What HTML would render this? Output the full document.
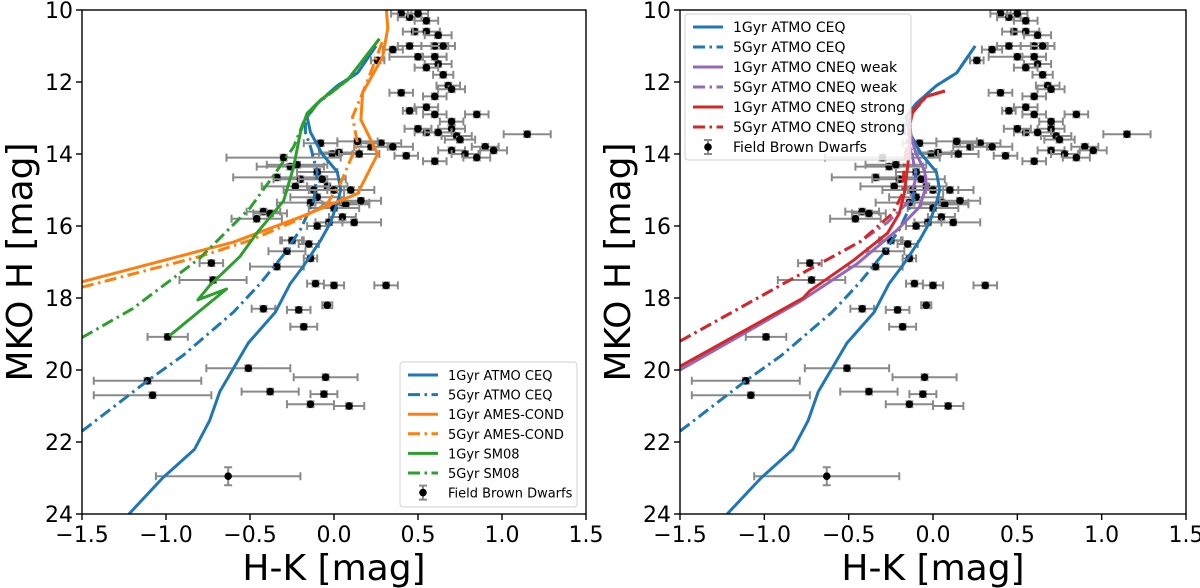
<!DOCTYPE html>
<html><head><meta charset="utf-8">
<style>
html,body{margin:0;padding:0;background:#fff;}
svg{display:block;font-family:"DejaVu Sans","Liberation Sans",sans-serif;}
</style></head>
<body>
<svg id="fig" width="1200" height="588" viewBox="0 0 1200 588" xmlns="http://www.w3.org/2000/svg"></svg>
<script>
// ---- Field brown dwarf data ----
const dwarfHK = [0.40,0.45,0.50,0.55,0.48,0.55,0.62,0.35,0.45,0.60,0.65,0.50,0.60,0.62,0.55,0.65,0.68,0.70,0.60,0.55,0.60,0.85,0.70,0.73,0.75,0.70,0.60,0.55,0.70,0.78,0.85,0.90,0.95,1.15,0.50,0.62,
 0.26,0.40,0.45,-0.08,-0.01,0.03,0.15,0.22,0.28,0.35,0.43,0.14,-0.30,-0.26,-0.22,-0.34,-0.20,-0.10,-0.07,-0.04,-0.23,-0.12,-0.10,-0.14,0.00,0.10,0.05,0.07,0.16,0.00,-0.42,-0.38,-0.46,0.05,0.12,-0.03,-0.10,-0.25,-0.15,
 -0.73,-0.34,-0.72,-0.28,-0.25,-0.14,-0.11,0.00,0.31,-0.42,-0.21,-0.04,-0.18,-0.99,-0.51,-0.05,-1.11,-1.08,-0.38,-0.06,-0.14,0.09,-0.63];
const dwarfMH = [10.1,10.2,10.1,10.3,10.6,10.6,10.7,11.1,11.0,11.0,11.0,11.3,11.3,11.5,11.6,11.8,12.1,12.2,12.4,12.7,12.9,12.9,13.3,13.5,13.6,13.9,14.2,13.4,13.1,14.0,14.1,13.8,13.9,13.45,13.3,13.4,
 11.4,12.3,12.8,13.7,14.0,13.96,14.0,13.8,13.7,13.8,14.05,13.65,14.1,14.35,14.3,14.65,14.7,14.5,14.7,14.9,14.9,15.0,15.2,15.35,15.0,15.0,15.35,15.4,15.3,15.5,15.6,15.65,15.8,15.75,15.9,15.9,16.0,16.4,16.5,
 17.03,17.13,17.5,16.7,16.4,16.9,17.6,17.65,17.65,18.3,18.33,18.2,18.8,19.08,19.95,20.2,20.3,20.7,20.6,20.67,20.95,21.0,22.95];
const dwarfHKErr = [0.06,0.07,0.06,0.07,0.07,0.08,0.08,0.06,0.07,0.08,0.07,0.17,0.07,0.08,0.07,0.06,0.07,0.08,0.07,0.07,0.07,0.07,0.08,0.09,0.09,0.08,0.07,0.07,0.07,0.08,0.08,0.08,0.08,0.14,0.08,0.08,
 0.04,0.07,0.04,0.10,0.12,0.12,0.12,0.10,0.12,0.12,0.07,0.12,0.34,0.20,0.18,0.26,0.16,0.12,0.14,0.12,0.20,0.18,0.16,0.20,0.15,0.14,0.16,0.14,0.12,0.15,0.10,0.10,0.15,0.08,0.16,0.08,0.06,0.06,0.06,
 0.07,0.16,0.20,0.11,0.07,0.04,0.05,0.06,0.07,0.07,0.07,0.03,0.08,0.12,0.25,0.19,0.32,0.35,0.17,0.08,0.14,0.09,0.43];
const dwarfMHErr = dwarfHK.map((v,i)=> i===dwarfHK.length-1 ? 0.25 : 0.08);

// ---- Model isochrones ----
const atmo1HK = [-1.22,-1.02,-0.83,-0.74,-0.68,-0.51,-0.35,-0.26,-0.18,-0.08,-0.02,0.02,0.04,0.02,-0.07,-0.14,-0.16,-0.10,0.02,0.14,0.25];
const atmo1MH = [24.0,23.0,22.2,21.4,20.6,19.25,18.4,17.6,17.1,16.4,15.9,15.35,15.0,14.5,14.0,13.4,12.97,12.6,12.1,11.75,11.0];
const atmo5HK = [-1.5,-1.11,-0.9,-0.6,-0.44,-0.3,-0.2,-0.12,-0.1,-0.14,-0.17,-0.17,-0.1,0.02,0.14,0.25];
const atmo5MH = [21.7,20.3,19.6,18.4,17.6,16.8,16.1,15.3,14.5,13.8,13.4,13.05,12.6,12.1,11.75,11.0];
const ames1HK = [-1.5,-0.78,-0.6,-0.2,0.14,0.26,0.16,0.17,0.29,0.32,0.31];
const ames1MH = [17.55,16.67,16.45,15.75,15.1,14.0,13.05,12.3,11.3,10.5,9.9];
const ames5HK = [-1.5,-0.8,-0.5,-0.2,-0.04,0.04,0.14,0.11,0.17,0.23,0.29];
const ames5MH = [17.7,16.85,16.4,15.8,15.37,14.8,13.7,12.97,12.3,11.6,10.85];
const sm1HK = [-0.98,-0.64,-0.81,-0.74,-0.56,-0.46,-0.3,-0.24,-0.2,-0.16,-0.08,0.08,0.27];
const sm1MH = [19.05,17.75,18.05,17.65,16.85,16.2,15.3,14.35,13.4,12.87,12.5,11.95,10.8];
const sm5HK = [-1.5,-1.2,-0.8,-0.65,-0.5,-0.36,-0.24,-0.18,-0.1,0.08,0.27];
const sm5MH = [19.1,18.3,16.9,16.2,15.5,14.6,13.8,13.1,12.6,11.95,10.8];
const weak1HK = [-1.5,-0.79,-0.45,-0.21,-0.08,-0.04,-0.05,-0.10,-0.13,-0.14,-0.12,-0.04,0.07];
const weak1MH = [20.0,18.1,17.05,16.1,15.47,14.9,14.45,14.0,13.5,13.05,12.8,12.4,12.25];
const weak5HK = [-1.5,-0.79,-0.43,-0.27,-0.14,-0.10,-0.12,-0.14,-0.13,-0.04,0.07];
const weak5MH = [19.2,17.35,16.43,15.9,15.3,14.65,14.1,13.6,12.9,12.4,12.25];
const strong1HK = [-1.5,-0.77,-0.73,-0.47,-0.27,-0.2,-0.17,-0.15,-0.14,-0.14,-0.12,-0.04,0.07];
const strong1MH = [19.9,18.0,17.8,16.95,16.2,15.65,15.1,14.35,13.8,13.25,12.8,12.4,12.25];
const strong5HK = [-1.5,-0.79,-0.43,-0.24,-0.18,-0.17,-0.15,-0.13,-0.04,0.07];
const strong5MH = [19.2,17.35,16.43,15.65,15.1,14.25,13.6,12.9,12.4,12.25];

const xTicks = [-1.5,-1.0,-0.5,0.0,0.5,1.0,1.5];
const xTickLabels = ["\u22121.5","\u22121.0","\u22120.5","0.0","0.5","1.0","1.5"];
const yTicks = [10,12,14,16,18,20,22,24];

const NS = "http://www.w3.org/2000/svg";
const fig = document.getElementById('fig');
function mk(tag, attrs, parent){ const e=document.createElementNS(NS,tag); for(const k in attrs) e.setAttribute(k,attrs[k]); (parent||fig).appendChild(e); return e; }

const BLUE="#1f77b4", ORANGE="#ff7f0e", GREEN="#2ca02c", PURPLE="#9467bd", RED="#d62728";
const DASHDOT="12,4.5,2.5,4.5";
const ERRC="#8a8a8a";

function panel(name, x0, x1, y0, y1, series, legend){
  const g = mk('g',{});
  
  
  const sx = v => x0 + (v+1.5)/3*(x1-x0);
  const sy = v => y0 + (v-10)/14*(y1-y0);
  const clipId = name+'-clip';
  const cp = mk('clipPath',{id:clipId},g);
  mk('rect',{x:x0,y:y0,width:x1-x0,height:y1-y0},cp);
  const plot = mk('g',{'clip-path':'url(#'+clipId+')'},g);
  
  
  for(let i=0;i<dwarfHK.length;i++){
    const cx=sx(dwarfHK[i]), cy=sy(dwarfMH[i]);
    const xa=sx(dwarfHK[i]-dwarfHKErr[i]), xb=sx(dwarfHK[i]+dwarfHKErr[i]);
    const ya=sy(dwarfMH[i]-dwarfMHErr[i]), yb=sy(dwarfMH[i]+dwarfMHErr[i]);
    const pg = mk('g',{},plot);
    
    
    mk('path',{d:`M${xa},${cy}H${xb}M${xa},${cy-4}V${cy+4}M${xb},${cy-4}V${cy+4}M${cx},${ya}V${yb}M${cx-4},${ya}H${cx+4}M${cx-4},${yb}H${cx+4}`,stroke:ERRC,'stroke-width':2,fill:'none'},pg);
    mk('circle',{cx:cx,cy:cy,r:3.8,fill:'#000'},pg);
  }
  series.forEach(s=>{
    const d = s.x.map((v,i)=>(i?'L':'M')+sx(v).toFixed(1)+','+sy(s.y[i]).toFixed(1)).join('');
    const p = mk('path',{d:d,fill:'none',stroke:s.c,'stroke-width':3,'stroke-linejoin':'round'},plot);
    if(s.dash) p.setAttribute('stroke-dasharray',DASHDOT);
    
    
  });
  const fr = mk('rect',{x:x0,y:y0,width:x1-x0,height:y1-y0,fill:'none',stroke:'#000','stroke-width':1.4},g);
  
  
  xTicks.forEach((t,i)=>{
    const x=sx(t);
    mk('line',{x1:x,x2:x,y1:y1,y2:y1+6,stroke:'#000','stroke-width':1.4},g);
    const tx = mk('text',{x:x,y:y1+28,'font-size':22,'text-anchor':'middle'},g);
    tx.textContent = xTickLabels[i];
    
    
  });
  yTicks.forEach(t=>{
    const y=sy(t);
    mk('line',{x1:x0-6,x2:x0,y1:y,y2:y,stroke:'#000','stroke-width':1.4},g);
    const tx = mk('text',{x:x0-9,y:y+8,'font-size':22,'text-anchor':'end'},g);
    tx.textContent = t;
    
    
  });
  const xl = mk('text',{x:(x0+x1)/2,y:580,'font-size':36,'text-anchor':'middle'},g);
  xl.textContent='H-K [mag]';
  
  
  const yl = mk('text',{x:0,y:0,'font-size':36,'text-anchor':'middle',transform:`translate(${x0-50},${(y0+y1)/2}) rotate(-90)`},g);
  yl.textContent='MKO H [mag]';
  
  
  const lg = mk('g',{},g);
  
  
  mk('rect',{x:legend.x,y:legend.y,width:legend.w,height:legend.h,rx:3,fill:'#fff','fill-opacity':0.85,stroke:'#d0d0d0','stroke-width':1},lg);
  legend.items.forEach((it,i)=>{
    const cy = legend.y+13+i*legend.dy;
    const e = mk('g',{},lg);
    
    
    const lx = legend.x+8;
    if(it.c){
      const l = mk('line',{x1:lx,x2:lx+30,y1:cy,y2:cy,stroke:it.c,'stroke-width':3},e);
      if(it.dash) l.setAttribute('stroke-dasharray',DASHDOT);
    } else {
      mk('path',{d:`M${lx+15},${cy-7}V${cy+7}M${lx+11},${cy-7}H${lx+19}M${lx+11},${cy+7}H${lx+19}`,stroke:ERRC,'stroke-width':2},e);
      mk('circle',{cx:lx+15,cy:cy,r:3.8,fill:'#000'},e);
    }
    const t = mk('text',{x:lx+40,y:cy+5,'font-size':legend.fs},e);
    t.textContent = it.label;
  });
}

panel('left-panel', 82, 586, 10, 514, [
  {id:'atmo-ceq-1gyr',x:atmo1HK,y:atmo1MH,c:BLUE},
  {id:'atmo-ceq-5gyr',x:atmo5HK,y:atmo5MH,c:BLUE,dash:1},
  {id:'ames-cond-1gyr',x:ames1HK,y:ames1MH,c:ORANGE},
  {id:'ames-cond-5gyr',x:ames5HK,y:ames5MH,c:ORANGE,dash:1},
  {id:'sm08-1gyr',x:sm1HK,y:sm1MH,c:GREEN},
  {id:'sm08-5gyr',x:sm5HK,y:sm5MH,c:GREEN,dash:1}
],{x:400,y:362,w:177,h:145,dy:19.6,fs:13,items:[
  {label:'1Gyr ATMO CEQ',c:BLUE},{label:'5Gyr ATMO CEQ',c:BLUE,dash:1},
  {label:'1Gyr AMES-COND',c:ORANGE},{label:'5Gyr AMES-COND',c:ORANGE,dash:1},
  {label:'1Gyr SM08',c:GREEN},{label:'5Gyr SM08',c:GREEN,dash:1},
  {label:'Field Brown Dwarfs'}]});

panel('right-panel', 680, 1186, 10, 514, [
  {id:'atmo-ceq-1gyr',x:atmo1HK,y:atmo1MH,c:BLUE},
  {id:'atmo-ceq-5gyr',x:atmo5HK,y:atmo5MH,c:BLUE,dash:1},
  {id:'atmo-cneq-weak-1gyr',x:weak1HK,y:weak1MH,c:PURPLE},
  {id:'atmo-cneq-weak-5gyr',x:weak5HK,y:weak5MH,c:PURPLE,dash:1},
  {id:'atmo-cneq-strong-1gyr',x:strong1HK,y:strong1MH,c:RED},
  {id:'atmo-cneq-strong-5gyr',x:strong5HK,y:strong5MH,c:RED,dash:1}
],{x:685,y:14,w:226,h:146,dy:20,fs:14,items:[
  {label:'1Gyr ATMO CEQ',c:BLUE},{label:'5Gyr ATMO CEQ',c:BLUE,dash:1},
  {label:'1Gyr ATMO CNEQ weak',c:PURPLE},{label:'5Gyr ATMO CNEQ weak',c:PURPLE,dash:1},
  {label:'1Gyr ATMO CNEQ strong',c:RED},{label:'5Gyr ATMO CNEQ strong',c:RED,dash:1},
  {label:'Field Brown Dwarfs'}]});
</script>
</body></html>
